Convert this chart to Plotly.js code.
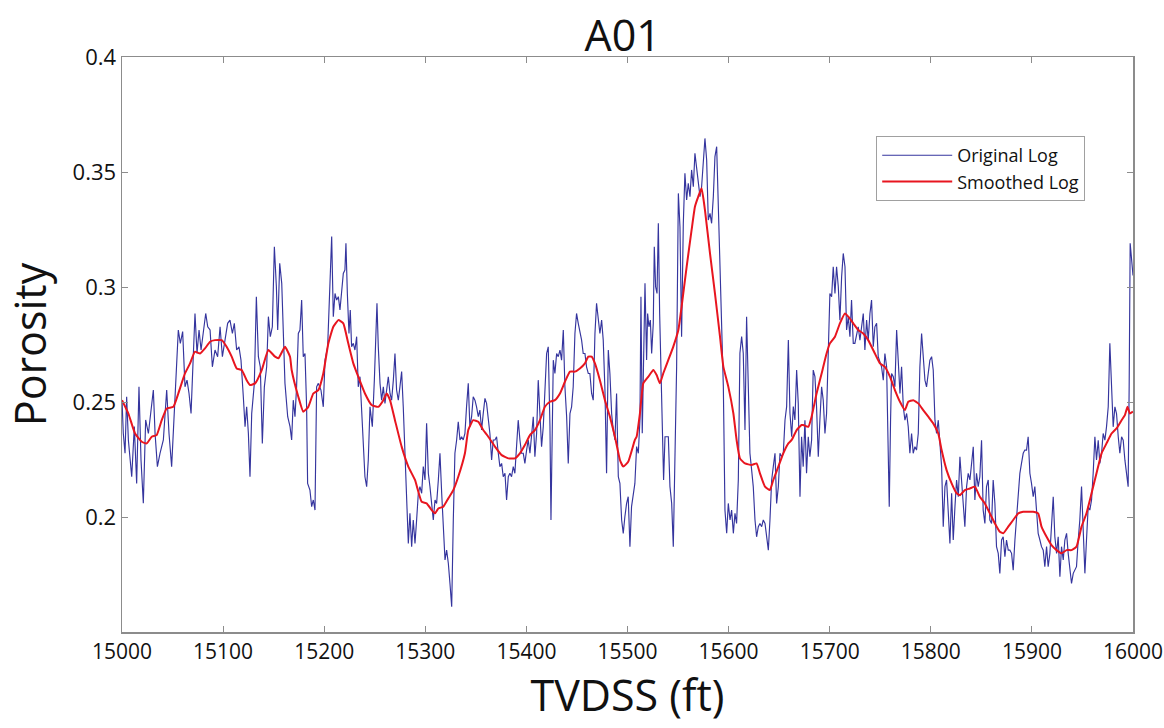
<!DOCTYPE html>
<html>
<head>
<meta charset="utf-8">
<script src="https://cdn.plot.ly/plotly-3.0.1.min.js"></script>
<style>
  html, body { margin: 0; padding: 0; background: #ffffff; }
  #chart { width: 1164px; height: 728px; }
</style>
</head>
<body>
<div id="chart"></div>
<script>
// ---- Data ----
const chartTitle = "A01";
const xAxisLabel = "TVDSS (ft)";
const yAxisLabel = "Porosity";
const seriesNames = ["Original Log", "Smoothed Log"];
const xTickValues = [15000, 15100, 15200, 15300, 15400, 15500, 15600, 15700, 15800, 15900, 16000];
const yTickValues = [0.2, 0.25, 0.3, 0.35, 0.4];
const yTickLabels = ["0.2", "0.25", "0.3", "0.35", "0.4"];

const originalDepth = [
15000.0,15001.3,15003.0,15004.6,15006.3,15009.6,15012.2,15014.5,15016.8,15018.8,15021.1,15023.4,15026.1,15028.7,15031.0,15032.7,15035.0,15037.6,15040.9,15044.2,15046.5,15049.1,15051.8,15053.4,15055.7,15057.7,15060.0,15062.3,15064.3,15066.3,15068.3,15070.6,15072.2,15074.2,15076.2,15078.2,15080.5,15082.8,15084.8,15087.1,15089.4,15092.0,15094.6,15097.0,15099.3,15101.9,15104.5,15106.8,15109.2,15111.1,15113.4,15115.7,15117.7,15120.0,15121.7,15123.3,15125.0,15126.6,15128.3,15130.9,15132.9,15134.9,15136.8,15138.8,15140.8,15143.1,15144.8,15146.7,15148.7,15150.7,15152.7,15154.0,15156.0,15158.0,15159.6,15161.2,15163.9,15166.2,15167.8,
15169.4,15171.1,15172.7,15174.4,15176.0,15177.7,15179.3,15181.0,15182.6,15183.6,15185.9,15187.6,15189.2,15190.9,15192.5,15194.2,15196.8,15199.1,15200.8,15203.4,15205.7,15207.4,15209.0,15210.7,15212.3,15214.0,15215.6,15217.3,15218.9,15220.5,15221.5,15222.9,15224.5,15225.8,15227.1,15228.8,15230.4,15232.1,15233.7,15235.4,15237.0,15238.7,15240.3,15242.0,15243.6,15245.3,15247.6,15249.6,15250.9,15252.2,15253.5,15255.2,15256.8,15258.5,15260.1,15261.8,15263.4,15265.1,15266.7,15268.4,15270.0,15271.6,15273.3,15274.9,15276.6,15278.2,15279.9,15281.5,15283.2,15284.8,15286.5,15288.1,15289.8,15291.4,15293.1,15294.7,15296.4,15298.0,15299.7,15301.3,15303.0,15304.6,15306.3,15307.9,15309.6,15311.2,15312.9,15314.5,15316.2,15317.8,15319.5,15321.1,15322.8,15324.4,15326.1,15327.7,15329.3,15331.0,15332.6,15334.3,15335.9,
15337.5,15339.2,15340.8,15342.5,15344.1,15345.8,15347.4,15349.1,15350.7,15352.4,15354.0,15355.7,15357.3,15359.0,15360.6,15362.3,15363.9,15365.6,15367.2,15368.9,15370.5,15372.2,15373.8,15375.5,15377.1,15378.8,15380.4,15382.1,15383.7,15385.3,15387.0,15388.6,15390.3,15391.9,15393.6,15395.2,15396.9,15398.5,15400.2,15401.8,15403.5,15405.1,15406.8,15408.4,15410.1,15411.7,15413.4,15415.0,15416.7,15418.3,15420.0,15421.6,15423.3,15424.3,15425.6,15426.6,15428.2,15429.9,15431.5,15433.2,15434.8,15436.5,15438.1,15439.8,15441.4,15443.1,15444.7,15446.3,15448.0,15449.6,15451.3,15452.9,15454.6,15456.2,15457.9,15459.5,15461.2,15462.8,15464.5,15466.1,15467.8,15469.4,15471.1,15472.7,15474.4,15476.0,15477.7,15479.3,15481.0,15482.6,15484.3,15485.9,15487.6,15489.2,15490.9,15492.5,15494.2,15495.8,15497.4,15499.1,15500.7,15502.4,15504.0,15505.7,15507.3,
15509.0,15510.7,15512.3,15513.3,15514.6,15516.0,15517.3,15518.9,15519.9,15521.2,15522.6,15523.9,15525.5,15526.5,15527.8,15529.2,15530.5,15531.8,15533.1,15534.4,15535.7,15537.1,15538.7,15540.4,15542.0,15543.7,15545.3,15547.0,15548.6,15550.3,15551.9,15553.5,15555.2,15556.8,15558.5,15560.1,15561.8,15563.4,15565.1,15566.7,15568.4,15570.0,15571.7,15573.3,15575.0,15576.6,15578.3,15579.9,15581.6,15583.2,15584.9,15586.5,15588.2,15589.8,15591.5,15593.1,15594.8,15596.4,15598.1,15599.7,15601.4,15603.0,15604.7,15606.3,15607.9,15609.6,15611.2,15612.9,15614.5,15616.2,15617.8,15619.5,15621.1,15622.8,15624.4,15626.1,15627.7,15629.4,15631.0,15632.7,15634.3,15636.0,15637.6,15639.3,15640.9,15642.6,15644.2,15645.9,15647.5,15649.2,15650.8,15652.5,15654.1,15655.8,15657.4,15659.1,15660.7,15662.4,15664.0,15665.6,15667.3,15668.9,15670.6,15672.2,
15673.8,15675.5,15677.1,15678.8,15680.4,15682.1,15683.7,15685.4,15687.0,15688.7,15690.3,15692.0,15693.6,15695.3,15696.9,15698.6,15700.2,15701.9,15703.5,15705.2,15706.8,15708.5,15710.1,15711.8,15713.4,15715.1,15716.7,15718.4,15720.0,15721.6,15723.3,15724.9,15726.6,15728.2,15729.9,15731.5,15733.2,15734.8,15736.5,15738.1,15739.8,15741.4,15743.1,15744.7,15746.4,15748.0,15749.7,15751.3,15753.0,15754.6,15756.3,15757.9,15758.9,15760.2,15761.2,15762.9,15764.5,15766.2,15767.8,15769.5,15771.1,15772.8,15774.4,15776.1,15777.7,15779.3,15781.0,15782.6,15784.3,15785.9,15787.6,15789.2,15790.9,15792.5,15794.2,15795.8,15797.5,15799.1,15800.8,15802.4,15804.1,15805.7,15807.4,15809.0,15810.7,15812.3,15814.0,15815.6,15817.3,15818.9,15820.6,15822.2,15823.9,15825.5,15827.2,15828.8,15830.4,15832.1,15833.7,15835.4,15837.0,15838.7,15840.3,15842.0,
15843.6,15845.2,15846.9,15848.5,15850.2,15851.8,15853.5,15855.1,15856.8,15858.4,15860.1,15861.7,15863.4,15865.0,15866.7,15868.3,15870.0,15871.6,15873.3,15874.9,15876.6,15878.2,15879.9,15881.5,15883.2,15884.8,15886.5,15888.1,15889.7,15891.4,15893.0,15894.7,15896.3,15898.0,15899.6,15901.3,15902.9,15904.6,15906.2,15907.9,15909.5,15911.2,15912.8,15914.5,15916.1,15917.8,15919.4,15921.1,15922.7,15924.4,15926.0,15927.7,15929.3,15931.0,15932.6,15934.3,15935.9,15937.6,15939.2,15940.9,15942.5,15944.1,15945.8,15947.4,15949.1,15950.7,15952.4,15954.0,15955.7,15957.3,15959.0,15960.6,15962.3,15963.9,15965.6,15967.2,15968.9,15970.5,15972.2,15973.8,15975.5,15977.1,15978.8,15980.4,15982.1,15983.7,15985.4,15987.0,15988.7,15990.3,15992.0,15993.6,15995.2,15996.2,15997.2,16000.0
];

const originalPorosity = [
0.2508,0.2363,0.2277,0.2523,0.2335,0.2175,0.2393,0.2146,0.2566,0.2248,0.2060,0.2422,0.2363,0.2479,0.2552,0.2363,0.2219,0.2277,0.2335,0.2552,0.2363,0.2219,0.2450,0.2566,0.2813,0.2755,0.2806,0.2566,0.2595,0.2537,0.2450,0.2711,0.2885,0.2711,0.2813,0.2726,0.2798,0.2885,0.2827,0.2813,0.2653,0.2726,0.2697,0.2827,0.2697,0.2769,0.2842,0.2856,0.2798,0.2842,0.2726,0.2740,0.2682,0.2523,0.2393,0.2479,0.2363,0.2175,0.2450,0.2581,0.2958,0.2697,0.2653,0.2320,0.2566,0.2653,0.2871,0.2784,0.2827,0.3175,0.3001,0.2813,0.3103,0.3016,0.2798,0.2581,0.2436,0.2393,0.2335,
0.2508,0.2436,0.2566,0.2798,0.2813,0.2943,0.2697,0.2711,0.2479,0.2146,0.2117,0.2045,0.2074,0.2030,0.2566,0.2581,0.2552,0.2479,0.2682,0.2740,0.3059,0.3219,0.2871,0.2972,0.2943,0.2958,0.2900,0.2972,0.3059,0.3074,0.3190,0.2972,0.2798,0.2900,0.2740,0.2755,0.2726,0.2784,0.2566,0.2610,0.2479,0.2320,0.2175,0.2132,0.2248,0.2479,0.2393,0.2595,0.2769,0.2929,0.2740,0.2581,0.2508,0.2566,0.2494,0.2566,0.2610,0.2537,0.2508,0.2595,0.2711,0.2552,0.2508,0.2566,0.2632,0.2479,0.2277,0.2001,0.1885,0.2016,0.1871,0.1987,0.1885,0.1987,0.2103,0.2132,0.2103,0.2219,0.2161,0.2407,0.2190,0.2132,0.2045,0.1987,0.2074,0.2059,0.2161,0.2277,0.2103,0.1929,0.1813,0.1856,0.1798,0.1711,0.1610,0.1987,0.2277,0.2335,0.2414,0.2335,0.2349,
0.2335,0.2363,0.2479,0.2581,0.2393,0.2436,0.2523,0.2508,0.2479,0.2436,0.2465,0.2378,0.2450,0.2516,0.2494,0.2436,0.2363,0.2248,0.2335,0.2335,0.2349,0.2277,0.2219,0.2233,0.2175,0.2190,0.2074,0.2175,0.2190,0.2175,0.2219,0.2190,0.2291,0.2421,0.2335,0.2277,0.2277,0.2233,0.2291,0.2335,0.2277,0.2363,0.2436,0.2262,0.2363,0.2595,0.2450,0.2306,0.2393,0.2566,0.2711,0.2740,0.2393,0.1987,0.2363,0.2682,0.2624,0.2711,0.2697,0.2726,0.2682,0.2813,0.2566,0.2436,0.2233,0.2450,0.2479,0.2566,0.2798,0.2885,0.2842,0.2813,0.2769,0.2711,0.2711,0.2653,0.2624,0.2624,0.2537,0.2508,0.2798,0.2929,0.2871,0.2798,0.2856,0.2769,0.2552,0.2190,0.2726,0.2624,0.2450,0.2378,0.2335,0.2537,0.2175,0.2146,0.1987,0.1929,0.2001,0.2059,0.2088,0.1871,0.2045,0.2103,0.2146,
0.2306,0.2277,0.2422,0.2958,0.2364,0.2798,0.3016,0.2683,0.2885,0.2827,0.2856,0.2711,0.2842,0.3175,0.3001,0.2972,0.3277,0.2885,0.2625,0.2422,0.2161,0.2349,0.2349,0.2349,0.2132,0.2059,0.1871,0.2204,0.2654,0.3407,0.3262,0.2784,0.3277,0.3494,0.3378,0.3451,0.3393,0.3509,0.3436,0.3581,0.3509,0.3451,0.3393,0.3436,0.3552,0.3646,0.3552,0.3291,0.3320,0.3277,0.3393,0.3567,0.3610,0.3378,0.3146,0.2856,0.2567,0.2030,0.1929,0.2059,0.1987,0.2030,0.1929,0.2016,0.1972,0.2161,0.2712,0.2784,0.2712,0.2378,0.2871,0.2567,0.2277,0.2204,0.2132,0.1987,0.1914,0.1958,0.1972,0.1958,0.1987,0.1972,0.1914,0.1856,0.1987,0.2161,0.2219,0.2277,0.2059,0.2132,0.2277,0.2262,0.2277,0.2422,0.2480,0.2769,0.2451,0.2349,0.2480,0.2422,0.2639,0.2494,0.2088,0.2349,
0.2219,0.2421,0.2190,0.2349,0.2262,0.2334,0.2639,0.2610,0.2479,0.2262,0.2421,0.2566,0.2508,0.2363,0.2450,0.2769,0.2972,0.2958,0.3088,0.2972,0.3088,0.3001,0.2856,0.3045,0.3146,0.3088,0.2813,0.2871,0.2784,0.2943,0.2755,0.2755,0.2798,0.2827,0.2769,0.2827,0.2885,0.2726,0.2856,0.2769,0.2885,0.2943,0.2740,0.2827,0.2842,0.2697,0.2668,0.2653,0.2595,0.2711,0.2653,0.2277,0.2045,0.2421,0.2624,0.2610,0.2566,0.2813,0.2653,0.2537,0.2653,0.2479,0.2421,0.2450,0.2392,0.2277,0.2363,0.2277,0.2306,0.2291,0.2363,0.2653,0.2798,0.2711,0.2595,0.2566,0.2624,0.2682,0.2697,0.2639,0.2421,0.2363,0.2421,0.2334,0.2219,0.1958,0.2132,0.2161,0.2016,0.1885,0.2103,0.1900,0.2045,0.2161,0.2088,0.2262,0.2161,0.2045,0.1958,0.2132,0.2190,0.2161,0.2247,0.2305,
0.2074,0.2190,0.2132,0.2175,0.2334,0.2030,0.1972,0.2132,0.2161,0.1987,0.1972,0.2161,0.2059,0.1871,0.1842,0.1755,0.1900,0.1914,0.1827,0.1900,0.1856,0.1856,0.1842,0.1769,0.1900,0.1987,0.2103,0.2190,0.2233,0.2277,0.2291,0.2291,0.2349,0.2190,0.2146,0.2088,0.2132,0.2016,0.1929,0.1900,0.1871,0.1856,0.1784,0.1871,0.1784,0.1842,0.1958,0.2088,0.1914,0.1842,0.1914,0.1740,0.1871,0.1813,0.1900,0.1929,0.1842,0.1769,0.1711,0.1755,0.1769,0.1784,0.1900,0.1987,0.2132,0.1958,0.1755,0.1900,0.2045,0.2030,0.2074,0.2190,0.2349,0.2248,0.2334,0.2233,0.2277,0.2363,0.2334,0.2392,0.2479,0.2755,0.2566,0.2392,0.2479,0.2450,0.2349,0.2277,0.2349,0.2334,0.2247,0.2190,0.2132,0.2566,0.3190,0.3050
];

const smoothDepth = [
15000.0,15006.3,15012.9,15019.5,15024.4,15029.4,15034.3,15039.3,15044.2,15050.8,15055.7,15062.3,15067.3,15072.2,15077.2,15082.1,15087.1,15092.0,15098.6,15103.5,15108.5,15113.4,15118.4,15123.3,15126.6,15131.6,15138.2,15144.8,15151.4,15154.7,15161.2,15166.2,
15167.8,15174.4,15179.3,15184.3,15189.2,15194.2,15199.1,15204.1,15209.0,15214.0,15218.9,15223.8,15228.8,15233.7,15240.3,15246.9,15253.5,15258.5,15261.8,15265.1,15270.0,15276.6,15283.2,15289.8,15296.4,15301.3,15306.3,15309.6,15312.9,15317.8,15322.8,15327.7,15332.6,15339.2,
15342.5,15347.4,15352.4,15357.3,15362.3,15368.9,15375.5,15382.1,15388.6,15393.6,15398.5,15403.5,15408.4,15413.4,15418.3,15423.3,15428.2,15433.2,15438.1,15443.1,15448.0,15452.9,15457.9,15461.2,15464.5,15467.8,15472.7,15477.7,15482.6,15487.6,15492.5,15495.8,15500.7,15507.3,
15509.0,15512.3,15515.6,15520.6,15525.5,15528.8,15532.1,15535.4,15540.4,15545.3,15550.3,15553.5,15558.5,15563.4,15566.7,15570.0,15573.3,15576.6,15581.6,15586.5,15591.5,15594.8,15599.7,15604.7,15607.9,15611.2,15616.2,15622.8,15627.7,15631.0,15636.0,15640.9,15644.2,15649.2,15654.1,15659.1,15662.4,15667.3,15672.2,
15673.8,15678.8,15682.1,15687.0,15692.0,15696.9,15700.2,15705.2,15710.1,15715.1,15718.4,15723.3,15728.2,15733.2,15738.1,15744.7,15749.7,15754.6,15759.6,15764.5,15769.5,15774.4,15777.7,15782.6,15787.6,15792.5,15797.5,15802.4,15807.4,15810.7,15815.6,15820.6,15825.5,15828.8,15833.7,15838.7,
15843.6,15848.5,15853.5,15858.4,15863.4,15868.3,15871.6,15876.6,15881.5,15886.5,15891.4,15896.3,15901.3,15906.2,15909.5,15914.5,15919.4,15924.4,15929.3,15934.3,15939.2,15944.1,15949.1,15954.0,15959.0,15963.9,15968.9,15973.8,15978.8,15983.7,15988.7,15992.0,15994.6,15996.9,16000.0
];

const smoothPorosity = [
0.2508,0.2450,0.2363,0.2327,0.2320,0.2349,0.2356,0.2421,0.2472,0.2479,0.2537,0.2624,0.2668,0.2719,0.2711,0.2733,0.2762,0.2769,0.2769,0.2740,0.2697,0.2646,0.2639,0.2595,0.2574,0.2581,0.2639,0.2726,0.2697,0.2690,0.2740,0.2697,
0.2639,0.2523,0.2458,0.2479,0.2537,0.2552,0.2624,0.2755,0.2827,0.2856,0.2842,0.2755,0.2668,0.2610,0.2537,0.2487,0.2479,0.2508,0.2537,0.2508,0.2421,0.2306,0.2219,0.2161,0.2066,0.2059,0.2030,0.2016,0.2037,0.2045,0.2081,0.2117,0.2175,0.2277,
0.2378,0.2421,0.2414,0.2378,0.2349,0.2306,0.2269,0.2255,0.2255,0.2277,0.2313,0.2356,0.2378,0.2421,0.2479,0.2501,0.2508,0.2537,0.2588,0.2632,0.2632,0.2646,0.2668,0.2697,0.2697,0.2668,0.2595,0.2508,0.2436,0.2349,0.2248,0.2219,0.2240,0.2335,
0.2349,0.2451,0.2581,0.2610,0.2639,0.2617,0.2581,0.2625,0.2683,0.2741,0.2813,0.2914,0.3088,0.3248,0.3349,0.3393,0.3429,0.3335,0.3146,0.2972,0.2784,0.2654,0.2567,0.2451,0.2335,0.2255,0.2233,0.2226,0.2233,0.2190,0.2132,0.2117,0.2161,0.2219,0.2277,0.2320,0.2335,0.2378,0.2400,
0.2400,0.2392,0.2436,0.2537,0.2624,0.2711,0.2755,0.2784,0.2842,0.2885,0.2871,0.2842,0.2813,0.2798,0.2769,0.2711,0.2668,0.2653,0.2610,0.2552,0.2501,0.2465,0.2501,0.2508,0.2494,0.2465,0.2436,0.2407,0.2363,0.2291,0.2204,0.2146,0.2103,0.2095,0.2117,0.2124,
0.2132,0.2088,0.2059,0.2016,0.1972,0.1936,0.1929,0.1958,0.1987,0.2016,0.2023,0.2023,0.2023,0.2016,0.1958,0.1914,0.1878,0.1856,0.1842,0.1856,0.1856,0.1871,0.1958,0.2016,0.2103,0.2190,0.2277,0.2320,0.2363,0.2385,0.2421,0.2443,0.2479,0.2450,0.2458
];

// ---- Chart ----
const FONT = '"Open Sans", "Noto Sans", "DejaVu Sans", sans-serif';
const axisGray = '#8c8c8c';

const traces = [
  {
    x: originalDepth, y: originalPorosity, name: seriesNames[0],
    type: 'scatter', mode: 'lines',
    line: { color: '#35359e', width: 1.15 }
  },
  {
    x: smoothDepth, y: smoothPorosity, name: seriesNames[1],
    type: 'scatter', mode: 'lines',
    line: { color: '#e8151f', width: 2, shape: 'spline', smoothing: 0.4 }
  }
];

const layout = {
  width: 1164, height: 728,
  margin: { l: 122, r: 31, t: 57, b: 96 },
  paper_bgcolor: '#ffffff', plot_bgcolor: '#ffffff',
  font: { family: FONT, color: '#111111' },
  title: {
    text: chartTitle,
    font: { family: FONT, size: 43, color: '#111111' },
    x: 0.535, xanchor: 'center', y: 0.951, yanchor: 'middle'
  },
  xaxis: {
    range: [15000, 16000],
    tickvals: xTickValues,
    ticktext: xTickValues.map(String),
    ticklabeloverflow: 'allow',
    ticks: 'inside', ticklen: 6, tickcolor: axisGray, tickwidth: 1,
    showline: true, linecolor: axisGray, linewidth: 1.5, mirror: 'ticks',
    showgrid: false, zeroline: false,
    tickfont: { family: FONT, size: 21, color: '#111111' },
    title: { text: xAxisLabel, font: { family: FONT, size: 43, color: '#111111' }, standoff: 14 }
  },
  yaxis: {
    range: [0.15, 0.4],
    tickvals: yTickValues,
    ticktext: yTickLabels,
    ticklabeloverflow: 'allow',
    ticks: 'inside', ticklen: 6, tickcolor: axisGray, tickwidth: 1,
    showline: true, linecolor: axisGray, linewidth: 1.5, mirror: 'ticks',
    showgrid: false, zeroline: false,
    tickfont: { family: FONT, size: 22, color: '#111111' },
    title: { text: yAxisLabel, font: { family: FONT, size: 43, color: '#111111' }, standoff: 12 }
  },
  showlegend: true,
  legend: {
    x: 0.746, y: 0.8626, xanchor: 'left', yanchor: 'top',
    bgcolor: '#ffffff', bordercolor: '#a0a0a0', borderwidth: 1,
    font: { family: FONT, size: 18, color: '#111111' },
    itemwidth: 70,
    tracegroupgap: 0
  }
};

Plotly.newPlot('chart', traces, layout, { displayModeBar: false, staticPlot: true });
</script>
</body>
</html>
